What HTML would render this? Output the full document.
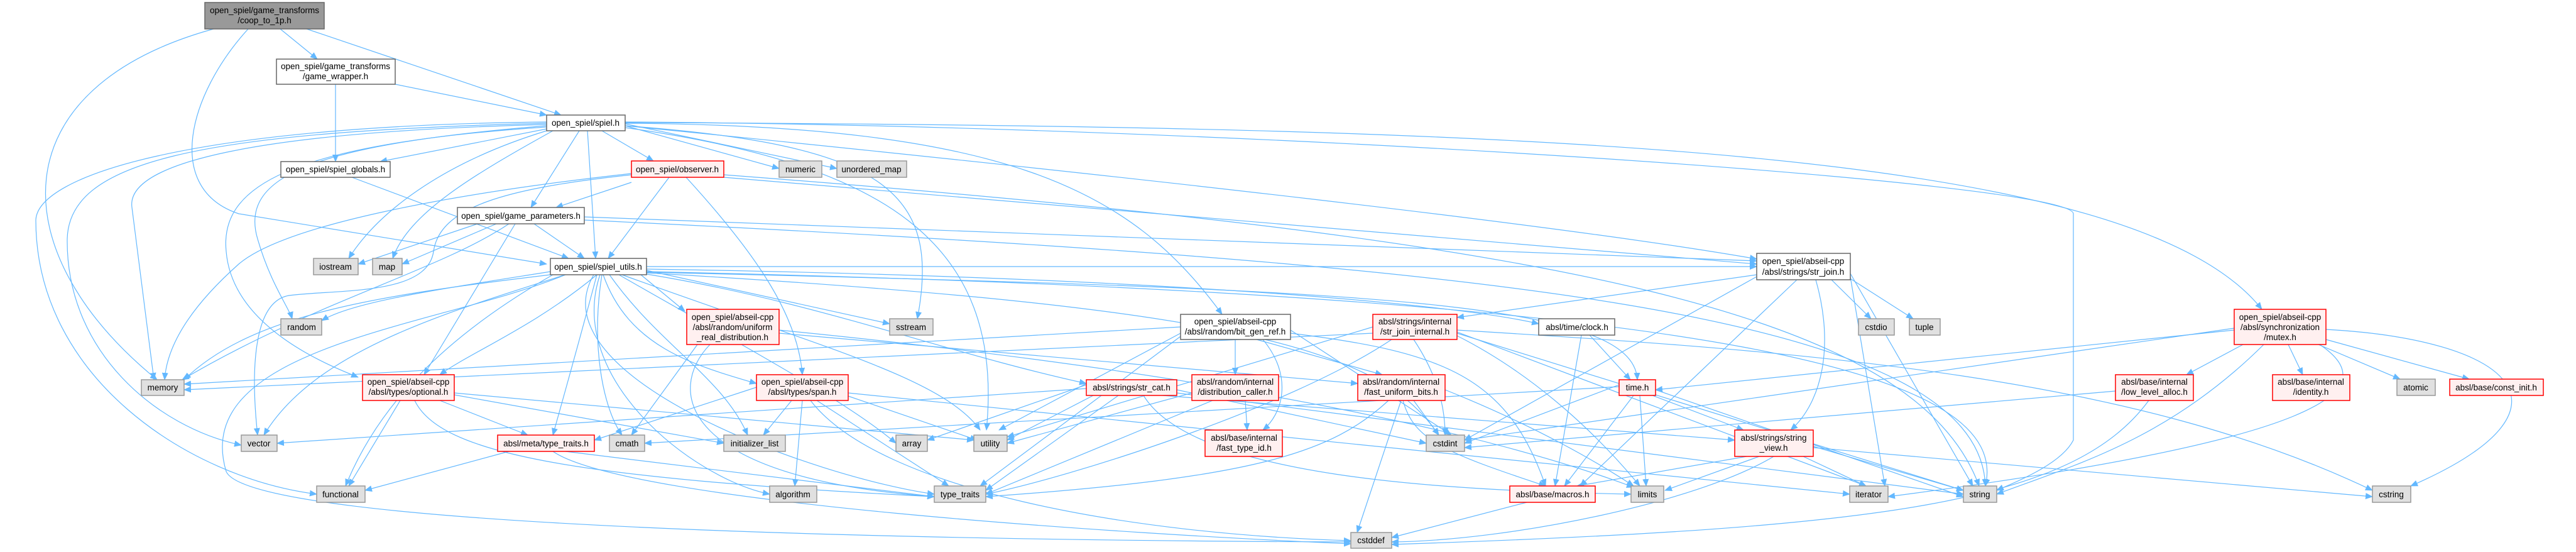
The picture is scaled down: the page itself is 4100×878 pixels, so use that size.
<!DOCTYPE html>
<html><head><meta charset="utf-8"><style>
html,body{margin:0;padding:0;background:#fff;}
svg{display:block;}
text{font-family:"Liberation Sans",Arial,sans-serif;font-size:13.5px;fill:#000;}
.e{fill:none;stroke:#63b8ff;stroke-width:1.2;}
.g{fill:#e0e0e0;stroke:#999;stroke-width:1.5;}
.r{fill:#fff0f0;stroke:#ff0000;stroke-width:1.5;}
.w{fill:#fff;stroke:#666;stroke-width:1.5;}
.t{fill:#999;stroke:#666;stroke-width:1.5;}
</style></head><body>
<svg width="4100" height="878" viewBox="0 0 4100 878" xmlns="http://www.w3.org/2000/svg">
<defs><marker id="a" markerWidth="12" markerHeight="10" refX="11" refY="5" orient="auto" markerUnits="userSpaceOnUse"><path d="M0,0 L12,5 L0,10 z" fill="#63b8ff"/></marker></defs>
<g class="e" marker-end="url(#a)">
<path d="M340,46 C0,140 0,400 250,604"/>
<path d="M446,46 L505,94"/>
<path d="M488,46 L893,183"/>
<path d="M395,46 C300,150 260,300 380,340 L870,420"/>
<path d="M629,134 L870,183"/>
<path d="M534,134 L534,257"/>
<path d="M870,205 L605,257"/>
<path d="M958,208 L1040,256"/>
<path d="M922,208 L845,330"/>
<path d="M935,208 L948,411"/>
<path d="M870,208 C700,260 600,340 555,411"/>
<path d="M880,208 C750,280 650,340 625,411"/>
<path d="M870,200 C500,230 380,280 410,380 C430,450 460,490 465,507"/>
<path d="M870,198 C400,210 200,260 210,330 L245,604"/>
<path d="M870,196 C300,210 110,260 107,380 C105,560 250,680 384,708"/>
<path d="M870,194 C300,200 60,280 57,350 C57,600 300,760 504,786"/>
<path d="M870,202 C450,230 350,300 360,400 C370,520 520,580 570,600"/>
<path d="M995,200 L1240,268"/>
<path d="M995,197 L1332,268"/>
<path d="M995,200 C1400,230 1500,300 1460,507"/>
<path d="M995,203 C1400,260 1600,380 1570,684"/>
<path d="M995,196 C1600,200 1800,300 1945,500"/>
<path d="M995,200 C1800,280 2500,360 2796,412"/>
<path d="M995,195 C2500,200 3400,240 3600,492"/>
<path d="M995,194 C2000,200 3300,290 3300,340 L3300,700 C3280,740 3200,770 3178,780"/>
<path d="M1005,290 L885,330"/>
<path d="M1065,282 L968,411"/>
<path d="M1005,276 C700,310 450,360 380,420 C290,500 265,560 262,604"/>
<path d="M1005,278 C800,300 700,330 690,400 C680,470 540,460 460,470 C400,480 400,600 410,692"/>
<path d="M1092,282 C1200,400 1270,500 1277,596"/>
<path d="M1152,278 C2500,380 3050,500 3150,773"/>
<path d="M1152,282 L2796,420"/>
<path d="M760,356 L570,420"/>
<path d="M790,356 L640,420"/>
<path d="M850,356 L930,411"/>
<path d="M810,356 C700,430 500,480 290,604"/>
<path d="M820,356 L675,596"/>
<path d="M930,345 L2796,415"/>
<path d="M930,350 C2400,420 3150,500 3160,773"/>
<path d="M560,282 L905,411"/>
<path d="M876,432 C700,460 560,480 512,510"/>
<path d="M876,437 C600,470 400,500 293,604"/>
<path d="M900,437 C700,500 500,560 420,692"/>
<path d="M950,437 C850,520 750,560 700,596"/>
<path d="M1020,437 L1090,495"/>
<path d="M1029,430 L1416,515"/>
<path d="M960,437 C1000,550 1100,580 1204,610"/>
<path d="M1029,436 C1300,480 1500,560 1729,610"/>
<path d="M1029,424 L2796,424"/>
<path d="M1029,428 C1800,440 2300,480 2449,515"/>
<path d="M1029,433 C2200,460 2600,480 2606,604"/>
<path d="M950,437 C920,550 900,620 880,692"/>
<path d="M958,437 C940,550 960,650 990,692"/>
<path d="M970,437 C1050,550 1150,600 1190,692"/>
<path d="M985,437 C1200,560 1350,640 1426,705"/>
<path d="M990,437 C1300,550 1500,600 1560,684"/>
<path d="M955,437 C900,600 1100,760 1225,786"/>
<path d="M945,437 C850,600 1300,760 1487,786"/>
<path d="M880,437 C700,540 600,650 550,773"/>
<path d="M900,437 C700,520 300,550 360,750 C400,840 1500,860 2150,862"/>
<path d="M1029,432 C2800,470 3200,600 3160,773"/>
<path d="M1029,434 C2000,490 2200,560 2290,692"/>
<path d="M1110,548 L1005,692"/>
<path d="M1130,548 C1060,620 1080,760 1487,790"/>
<path d="M1240,530 L2161,610"/>
<path d="M1240,525 C2000,600 2400,700 2600,775"/>
<path d="M1277,637 L1265,773"/>
<path d="M1260,637 L1215,692"/>
<path d="M1300,637 L1510,773"/>
<path d="M1350,630 L1555,700"/>
<path d="M1290,637 C1400,780 1800,850 2150,860"/>
<path d="M1204,616 L946,700"/>
<path d="M1350,625 L2944,786"/>
<path d="M700,637 L840,692"/>
<path d="M637,637 L555,773"/>
<path d="M660,637 C700,720 900,760 1487,790"/>
<path d="M723,625 L1550,700"/>
<path d="M723,628 L1152,705"/>
<path d="M1879,520 L293,611"/>
<path d="M810,718 L581,780"/>
<path d="M900,718 L1487,790"/>
<path d="M880,718 C1000,800 1800,850 2150,865"/>
<path d="M1740,629 L1603,700"/>
<path d="M1780,629 L1569,780"/>
<path d="M1729,612 L1476,700"/>
<path d="M1873,620 L2270,705"/>
<path d="M1850,629 L2761,700"/>
<path d="M1873,625 L3125,786"/>
<path d="M1729,618 L441,705"/>
<path d="M1820,629 C1900,760 2300,780 2596,786"/>
<path d="M1982,637 L1985,684"/>
<path d="M1897,625 L1603,705"/>
<path d="M1930,637 L1569,786"/>
<path d="M1966,540 L1966,596"/>
<path d="M2000,540 L2200,596"/>
<path d="M2010,540 C2060,600 2040,660 2010,684"/>
<path d="M1879,530 L1590,684"/>
<path d="M1879,535 L1560,773"/>
<path d="M2054,530 C2300,560 2400,600 2460,773"/>
<path d="M2054,525 L2310,692"/>
<path d="M2185,520 L1603,695"/>
<path d="M2215,540 C2050,650 1700,760 1569,786"/>
<path d="M2250,540 C2290,600 2300,650 2300,692"/>
<path d="M2319,530 L3125,780"/>
<path d="M2319,528 L2970,773"/>
<path d="M2319,525 C2900,560 3400,600 3776,780"/>
<path d="M2185,530 L293,620"/>
<path d="M2319,534 C2450,600 2550,700 2610,773"/>
<path d="M2530,533 L2595,604"/>
<path d="M2517,533 L2475,773"/>
<path d="M2250,637 L2290,692"/>
<path d="M2230,637 L2160,847"/>
<path d="M2233,637 C2250,700 2300,720 2460,773"/>
<path d="M2300,620 C2450,680 2550,740 2600,773"/>
<path d="M2210,637 C2120,720 2000,760 1569,790"/>
<path d="M2577,612 L2331,705"/>
<path d="M2600,629 L2490,773"/>
<path d="M2610,629 L2620,773"/>
<path d="M2630,629 L2775,684"/>
<path d="M2635,620 L3125,790"/>
<path d="M2577,615 L1026,705"/>
<path d="M2796,437 L2319,505"/>
<path d="M2915,445 L2978,507"/>
<path d="M2940,440 L3045,507"/>
<path d="M2890,445 C2920,550 2900,640 2850,684"/>
<path d="M2860,445 L2515,773"/>
<path d="M2945,435 L3140,773"/>
<path d="M2796,440 L2331,700"/>
<path d="M2945,440 L3000,773"/>
<path d="M2780,726 L2510,773"/>
<path d="M2800,726 L2650,780"/>
<path d="M2870,726 L2970,773"/>
<path d="M2886,710 L3125,780"/>
<path d="M2823,726 C2700,800 2400,860 2215,862"/>
<path d="M2886,712 L3776,790"/>
<path d="M2430,799 L2215,855"/>
<path d="M3570,548 L3480,596"/>
<path d="M3642,548 L3665,596"/>
<path d="M3690,548 L3820,603"/>
<path d="M3702,540 L3930,603"/>
<path d="M3603,548 C3450,700 3300,740 3178,786"/>
<path d="M3702,524 C4000,540 4120,650 3837,773"/>
<path d="M3692,548 C3800,620 3700,700 3005,790"/>
<path d="M3556,522 L2331,700"/>
<path d="M3556,525 L2635,620"/>
<path d="M3420,637 C3300,800 3000,840 2215,866"/>
<path d="M3367,622 L2331,712"/>
</g>
<g>
<rect class="t" x="326" y="4" width="190" height="42"/><text x="421" y="21" text-anchor="middle">open_spiel/game_transforms</text><text x="421" y="37" text-anchor="middle">/coop_to_1p.h</text>
<rect class="w" x="440" y="94" width="189" height="40"/><text x="534" y="110" text-anchor="middle">open_spiel/game_transforms</text><text x="534" y="126" text-anchor="middle">/game_wrapper.h</text>
<rect class="w" x="870" y="183" width="125" height="25"/><text x="932" y="200" text-anchor="middle">open_spiel/spiel.h</text>
<rect class="w" x="447" y="257" width="174" height="25"/><text x="534" y="274" text-anchor="middle">open_spiel/spiel_globals.h</text>
<rect class="r" x="1005" y="256" width="147" height="26"/><text x="1078" y="274" text-anchor="middle">open_spiel/observer.h</text>
<rect class="g" x="1240" y="256" width="68" height="26"/><text x="1274" y="274" text-anchor="middle">numeric</text>
<rect class="g" x="1332" y="256" width="111" height="26"/><text x="1387" y="274" text-anchor="middle">unordered_map</text>
<rect class="w" x="728" y="330" width="202" height="26"/><text x="829" y="348" text-anchor="middle">open_spiel/game_parameters.h</text>
<rect class="g" x="499" y="411" width="71" height="26"/><text x="534" y="429" text-anchor="middle">iostream</text>
<rect class="g" x="593" y="411" width="47" height="26"/><text x="616" y="429" text-anchor="middle">map</text>
<rect class="w" x="876" y="411" width="153" height="26"/><text x="952" y="429" text-anchor="middle">open_spiel/spiel_utils.h</text>
<rect class="w" x="2796" y="403" width="149" height="42"/><text x="2870" y="420" text-anchor="middle">open_spiel/abseil-cpp</text><text x="2870" y="437" text-anchor="middle">/absl/strings/str_join.h</text>
<rect class="g" x="447" y="507" width="65" height="26"/><text x="480" y="525" text-anchor="middle">random</text>
<rect class="r" x="1093" y="492" width="147" height="56"/><text x="1166" y="509" text-anchor="middle">open_spiel/abseil-cpp</text><text x="1166" y="525" text-anchor="middle">/absl/random/uniform</text><text x="1166" y="541" text-anchor="middle">_real_distribution.h</text>
<rect class="g" x="1416" y="507" width="69" height="26"/><text x="1450" y="525" text-anchor="middle">sstream</text>
<rect class="w" x="1879" y="500" width="175" height="40"/><text x="1966" y="516" text-anchor="middle">open_spiel/abseil-cpp</text><text x="1966" y="532" text-anchor="middle">/absl/random/bit_gen_ref.h</text>
<rect class="r" x="2185" y="500" width="134" height="40"/><text x="2252" y="516" text-anchor="middle">absl/strings/internal</text><text x="2252" y="532" text-anchor="middle">/str_join_internal.h</text>
<rect class="w" x="2449" y="507" width="121" height="26"/><text x="2510" y="525" text-anchor="middle">absl/time/clock.h</text>
<rect class="g" x="2958" y="507" width="57" height="26"/><text x="2986" y="525" text-anchor="middle">cstdio</text>
<rect class="g" x="3039" y="507" width="49" height="26"/><text x="3063" y="525" text-anchor="middle">tuple</text>
<rect class="r" x="3556" y="492" width="146" height="56"/><text x="3629" y="509" text-anchor="middle">open_spiel/abseil-cpp</text><text x="3629" y="525" text-anchor="middle">/absl/synchronization</text><text x="3629" y="541" text-anchor="middle">/mutex.h</text>
<rect class="g" x="225" y="604" width="68" height="25"/><text x="259" y="621" text-anchor="middle">memory</text>
<rect class="r" x="577" y="596" width="146" height="41"/><text x="650" y="612" text-anchor="middle">open_spiel/abseil-cpp</text><text x="650" y="628" text-anchor="middle">/absl/types/optional.h</text>
<rect class="r" x="1204" y="596" width="146" height="41"/><text x="1277" y="612" text-anchor="middle">open_spiel/abseil-cpp</text><text x="1277" y="628" text-anchor="middle">/absl/types/span.h</text>
<rect class="r" x="1729" y="604" width="144" height="25"/><text x="1801" y="621" text-anchor="middle">absl/strings/str_cat.h</text>
<rect class="r" x="1897" y="596" width="138" height="41"/><text x="1966" y="612" text-anchor="middle">absl/random/internal</text><text x="1966" y="628" text-anchor="middle">/distribution_caller.h</text>
<rect class="r" x="2161" y="596" width="139" height="41"/><text x="2230" y="612" text-anchor="middle">absl/random/internal</text><text x="2230" y="628" text-anchor="middle">/fast_uniform_bits.h</text>
<rect class="r" x="2577" y="604" width="58" height="25"/><text x="2606" y="621" text-anchor="middle">time.h</text>
<rect class="r" x="3367" y="596" width="124" height="41"/><text x="3429" y="612" text-anchor="middle">absl/base/internal</text><text x="3429" y="628" text-anchor="middle">/low_level_alloc.h</text>
<rect class="r" x="3617" y="596" width="123" height="41"/><text x="3678" y="612" text-anchor="middle">absl/base/internal</text><text x="3678" y="628" text-anchor="middle">/identity.h</text>
<rect class="g" x="3815" y="603" width="61" height="26"/><text x="3845" y="621" text-anchor="middle">atomic</text>
<rect class="r" x="3899" y="603" width="149" height="26"/><text x="3973" y="621" text-anchor="middle">absl/base/const_init.h</text>
<rect class="g" x="384" y="692" width="57" height="26"/><text x="412" y="710" text-anchor="middle">vector</text>
<rect class="r" x="792" y="692" width="154" height="26"/><text x="869" y="710" text-anchor="middle">absl/meta/type_traits.h</text>
<rect class="g" x="970" y="692" width="56" height="26"/><text x="998" y="710" text-anchor="middle">cmath</text>
<rect class="g" x="1152" y="692" width="98" height="26"/><text x="1201" y="710" text-anchor="middle">initializer_list</text>
<rect class="g" x="1426" y="692" width="50" height="26"/><text x="1451" y="710" text-anchor="middle">array</text>
<rect class="g" x="1550" y="692" width="53" height="26"/><text x="1576" y="710" text-anchor="middle">utility</text>
<rect class="r" x="1918" y="684" width="123" height="42"/><text x="1980" y="701" text-anchor="middle">absl/base/internal</text><text x="1980" y="717" text-anchor="middle">/fast_type_id.h</text>
<rect class="g" x="2270" y="692" width="61" height="26"/><text x="2300" y="710" text-anchor="middle">cstdint</text>
<rect class="r" x="2761" y="684" width="125" height="42"/><text x="2823" y="701" text-anchor="middle">absl/strings/string</text><text x="2823" y="717" text-anchor="middle">_view.h</text>
<rect class="g" x="504" y="773" width="77" height="26"/><text x="542" y="791" text-anchor="middle">functional</text>
<rect class="g" x="1225" y="773" width="75" height="26"/><text x="1262" y="791" text-anchor="middle">algorithm</text>
<rect class="g" x="1487" y="773" width="82" height="26"/><text x="1528" y="791" text-anchor="middle">type_traits</text>
<rect class="r" x="2403" y="773" width="136" height="26"/><text x="2471" y="791" text-anchor="middle">absl/base/macros.h</text>
<rect class="g" x="2596" y="773" width="52" height="26"/><text x="2622" y="791" text-anchor="middle">limits</text>
<rect class="g" x="2944" y="773" width="61" height="26"/><text x="2974" y="791" text-anchor="middle">iterator</text>
<rect class="g" x="3125" y="773" width="53" height="26"/><text x="3151" y="791" text-anchor="middle">string</text>
<rect class="g" x="3776" y="773" width="61" height="26"/><text x="3806" y="791" text-anchor="middle">cstring</text>
<rect class="g" x="2150" y="847" width="65" height="25"/><text x="2182" y="864" text-anchor="middle">cstddef</text>
</g>
</svg>
</body></html>
